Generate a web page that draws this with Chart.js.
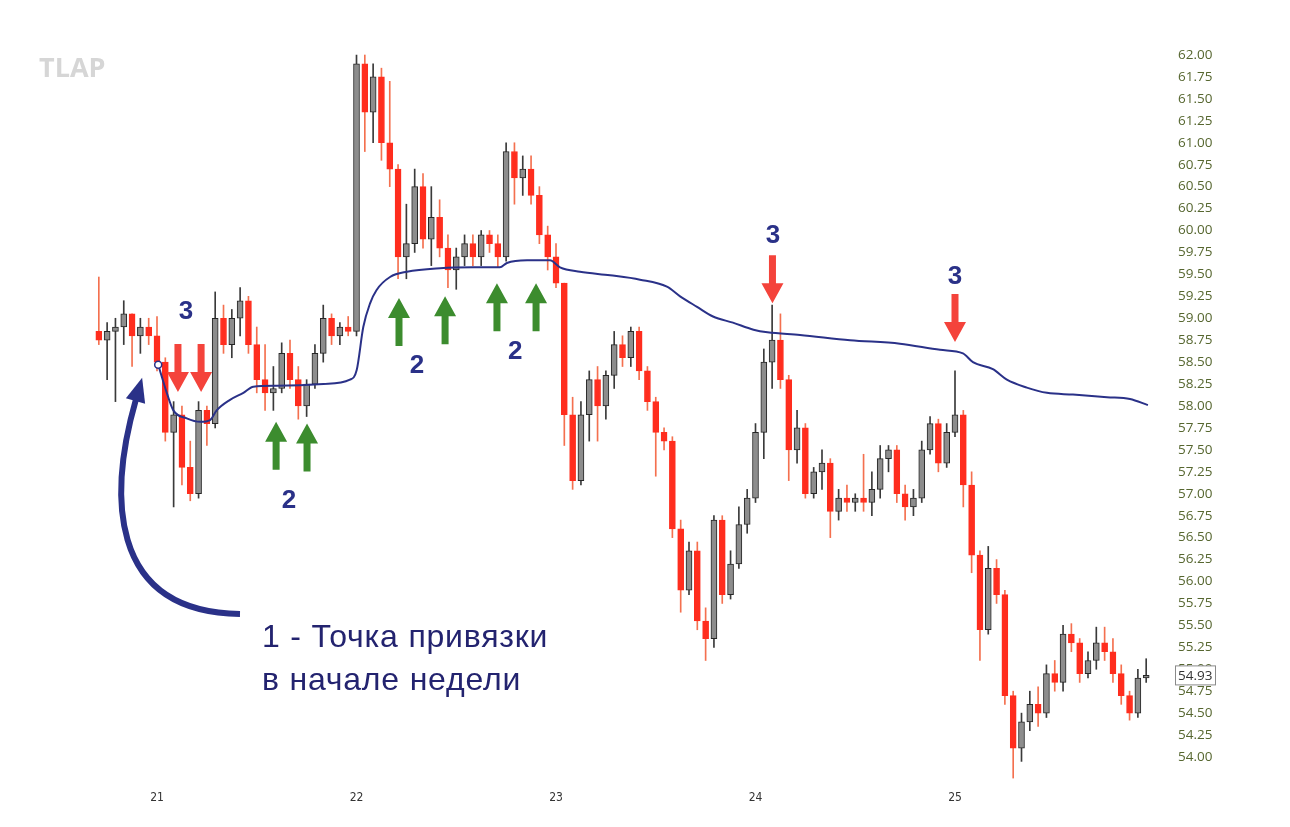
<!DOCTYPE html>
<html lang="ru">
<head>
<meta charset="UTF-8">
<title>Якорный VWAP</title>
<script src="https://cdn.jsdelivr.net/npm/chart.js"></script>
<style>
  html, body { margin: 0; padding: 0; background: #fff; }
  #wrap { width: 1290px; height: 827px; }
</style>
</head>
<body>
<div id="wrap"><canvas id="chart" width="1290" height="827"></canvas></div>
<script>
// hourly candles, first one at 17:00 of day 20
const startDay = 20 + 17 / 24;

const open = [58.85, 58.75, 58.85, 58.90, 59.05, 58.80, 58.90, 58.80, 58.50, 57.70,
  57.90, 57.30, 57.00, 57.95, 57.80, 59.00, 58.70, 59.00, 59.20, 58.70,
  58.30, 58.15, 58.20, 58.60, 58.30, 58.00, 58.25, 58.60, 59.00, 58.80,
  58.90, 58.85, 61.90, 61.35, 61.75, 61.00, 60.70, 59.70, 59.85, 60.50,
  59.90, 60.15, 59.80, 59.55, 59.70, 59.85, 59.70, 59.95, 59.85, 59.70,
  60.90, 60.60, 60.70, 60.40, 59.95, 59.70, 59.40, 57.90, 57.15, 57.90,
  58.30, 58.00, 58.35, 58.70, 58.55, 58.85, 58.40, 58.05, 57.70, 57.60,
  56.60, 55.90, 56.35, 55.55, 55.35, 56.70, 55.85, 56.20, 56.65, 56.95,
  57.70, 58.50, 58.75, 58.30, 57.50, 57.75, 57.00, 57.25, 57.35, 56.80,
  56.95, 56.90, 56.95, 56.90, 57.05, 57.40, 57.50, 57.00, 56.85, 56.95,
  57.50, 57.80, 57.35, 57.70, 57.90, 57.10, 56.30, 55.45, 56.15, 55.85,
  54.70, 54.10, 54.40, 54.60, 54.50, 54.95, 54.85, 55.40, 55.30, 54.95,
  55.10, 55.30, 55.20, 54.95, 54.70, 54.50, 54.90];
const high = [59.47, 58.95, 59.00, 59.20, 59.05, 59.00, 59.00, 59.02, 58.55, 58.05,
  58.00, 57.60, 58.05, 58.00, 59.30, 59.15, 59.10, 59.35, 59.25, 58.90,
  58.70, 58.45, 58.72, 58.75, 58.45, 58.30, 58.70, 59.15, 59.05, 58.95,
  59.02, 62.00, 62.00, 61.90, 61.85, 61.70, 60.75, 60.30, 60.70, 60.65,
  60.50, 60.35, 59.95, 59.80, 59.95, 59.95, 60.00, 60.00, 59.95, 61.00,
  61.00, 60.85, 60.85, 60.50, 60.05, 59.85, 59.40, 58.10, 58.05, 58.40,
  58.45, 58.40, 58.85, 58.80, 58.90, 58.90, 58.45, 58.10, 57.75, 57.65,
  56.70, 56.45, 56.45, 55.70, 56.75, 56.75, 56.35, 56.85, 57.05, 57.80,
  58.65, 59.15, 59.05, 58.35, 57.95, 57.80, 57.30, 57.50, 57.40, 57.05,
  57.10, 57.00, 57.45, 57.25, 57.55, 57.55, 57.55, 57.10, 57.05, 57.60,
  57.88, 57.85, 57.80, 58.40, 57.95, 57.25, 56.35, 56.40, 56.25, 55.90,
  54.75, 54.50, 54.75, 54.80, 55.05, 55.10, 55.50, 55.52, 55.35, 55.20,
  55.48, 55.48, 55.35, 55.05, 54.75, 55.00, 55.12];
const low = [58.70, 58.30, 58.05, 58.70, 58.45, 58.60, 58.70, 58.40, 57.60, 56.85,
  57.10, 56.92, 56.95, 57.55, 57.75, 58.60, 58.55, 58.80, 58.60, 58.15,
  57.95, 57.95, 58.15, 58.20, 57.85, 57.88, 58.20, 58.50, 58.70, 58.70,
  58.80, 58.80, 60.90, 61.00, 60.80, 60.50, 59.45, 59.45, 59.75, 59.80,
  59.60, 59.70, 59.35, 59.33, 59.60, 59.60, 59.60, 59.75, 59.58, 59.65,
  60.30, 60.40, 60.30, 59.85, 59.55, 59.35, 57.55, 57.05, 57.10, 57.60,
  57.60, 57.85, 58.20, 58.45, 58.45, 58.30, 57.95, 57.20, 57.50, 56.50,
  55.65, 55.85, 55.45, 55.10, 55.25, 55.75, 55.80, 56.15, 56.55, 56.90,
  57.40, 58.20, 58.20, 57.15, 57.35, 56.95, 56.95, 57.05, 56.50, 56.70,
  56.80, 56.80, 56.80, 56.75, 56.95, 57.25, 56.90, 56.70, 56.75, 56.90,
  57.45, 57.25, 57.30, 57.65, 56.85, 56.10, 55.10, 55.40, 55.75, 54.60,
  53.76, 53.95, 54.30, 54.35, 54.45, 54.75, 54.75, 55.20, 54.85, 54.90,
  55.00, 55.10, 54.85, 54.60, 54.42, 54.45, 54.85];
const close = [58.75, 58.85, 58.90, 59.05, 58.80, 58.90, 58.80, 58.50, 57.70, 57.90,
  57.30, 57.00, 57.95, 57.80, 59.00, 58.70, 59.00, 59.20, 58.70, 58.30,
  58.15, 58.20, 58.60, 58.30, 58.00, 58.25, 58.60, 59.00, 58.80, 58.90,
  58.85, 61.90, 61.35, 61.75, 61.00, 60.70, 59.70, 59.85, 60.50, 59.90,
  60.15, 59.80, 59.55, 59.70, 59.85, 59.70, 59.95, 59.85, 59.70, 60.90,
  60.60, 60.70, 60.40, 59.95, 59.70, 59.40, 57.90, 57.15, 57.90, 58.30,
  58.00, 58.35, 58.70, 58.55, 58.85, 58.40, 58.05, 57.70, 57.60, 56.60,
  55.90, 56.35, 55.55, 55.35, 56.70, 55.85, 56.20, 56.65, 56.95, 57.70,
  58.50, 58.75, 58.30, 57.50, 57.75, 57.00, 57.25, 57.35, 56.80, 56.95,
  56.90, 56.95, 56.90, 57.05, 57.40, 57.50, 57.00, 56.85, 56.95, 57.50,
  57.80, 57.35, 57.70, 57.90, 57.10, 56.30, 55.45, 56.15, 55.85, 54.70,
  54.10, 54.40, 54.60, 54.50, 54.95, 54.85, 55.40, 55.30, 54.95, 55.10,
  55.30, 55.20, 54.95, 54.70, 54.50, 54.90, 54.93];

// anchored VWAP (day, price)
const vwapDay = [21.006, 21.049, 21.082, 21.149, 21.216, 21.266, 21.299, 21.366, 21.433, 21.483,
  21.600, 21.834, 21.967, 22.001, 22.034, 22.068, 22.100, 22.168, 22.253, 22.419,
  22.584, 22.719, 22.754, 22.855, 22.970, 23.020, 23.120, 23.271, 23.421, 23.556,
  23.622, 23.707, 23.787, 23.887, 23.990, 24.060, 24.223, 24.474, 24.724, 24.925,
  25.040, 25.090, 25.190, 25.260, 25.360, 25.461, 25.591, 25.762, 25.877, 25.967];
const vwapValue = [58.47, 58.15, 57.95, 57.86, 57.82, 57.84, 57.95, 58.07, 58.15, 58.22,
  58.23, 58.25, 58.30, 58.41, 58.90, 59.17, 59.32, 59.47, 59.53, 59.57,
  59.58, 59.58, 59.63, 59.66, 59.66, 59.58, 59.53, 59.49, 59.44, 59.36,
  59.25, 59.13, 59.02, 58.95, 58.87, 58.84, 58.81, 58.75, 58.71, 58.64,
  58.60, 58.50, 58.42, 58.30, 58.21, 58.15, 58.13, 58.10, 58.08, 58.01];

const xTicks = [21, 22, 23, 24, 25];
const yTicks = [54.00, 54.25, 54.50, 54.75, 55.00, 55.25, 55.50, 55.75, 56.00, 56.25,
  56.50, 56.75, 57.00, 57.25, 57.50, 57.75, 58.00, 58.25, 58.50, 58.75,
  59.00, 59.25, 59.50, 59.75, 60.00, 60.25, 60.50, 60.75, 61.00, 61.25,
  61.50, 61.75, 62.00];
const lastPrice = 54.93;

// annotations (day, price)
const redArrows = [[21.105, 58.16], [21.221, 58.16], [24.085, 59.17], [25.000, 58.73]];
const greenArrows = [[21.597, 57.82], [21.752, 57.80], [22.213, 59.23], [22.444, 59.25], [22.704, 59.40], [22.900, 59.40]];
const markLabels = [['3', 21.145, 59.07], ['2', 21.662, 56.92], ['2', 22.303, 58.46], ['2', 22.795, 58.62], ['3', 24.088, 59.94], ['3', 25.000, 59.47]];
const noteLines = [['1 - Точка привязки', 21.526, 55.254], ['в начале недели', 21.526, 54.764]];
const curveArrow = [[21.416, 55.630], [20.739, 55.652], [20.764, 57.043], [20.895, 58.080]];

const times = close.map((c, i) => startDay + i / 24);
const isUp = close.map((c, i) => c >= open[i]);

const NAVY = '#2a3188';

function blockArrow(ctx, x, tipY, dir, color) {
  // dir = 1: points down, dir = -1: points up
  const len = 48, head = 20, hw = 11, sw = 3.5;
  const tailY = tipY - dir * len, neckY = tipY - dir * head;
  ctx.beginPath();
  ctx.moveTo(x - sw, tailY);
  ctx.lineTo(x + sw, tailY);
  ctx.lineTo(x + sw, neckY);
  ctx.lineTo(x + hw, neckY);
  ctx.lineTo(x, tipY);
  ctx.lineTo(x - hw, neckY);
  ctx.lineTo(x - sw, neckY);
  ctx.closePath();
  ctx.fillStyle = color;
  ctx.fill();
}

const overlay = {
  id: 'overlay',
  beforeDraw(chart) {
    const ctx = chart.ctx;
    ctx.save();
    ctx.fillStyle = '#d6d6d6';
    ctx.font = 'bold 27px "Open Sans", Arial, sans-serif';
    ctx.textBaseline = 'middle';
    ctx.fillText('TLAP', 39, 69);
    ctx.restore();
  },
  afterDraw(chart) {
    const ctx = chart.ctx;
    const xs = chart.scales.x, ys = chart.scales.y;
    const px = d => xs.getPixelForValue(d), py = v => ys.getPixelForValue(v);
    ctx.save();

    redArrows.forEach(a => blockArrow(ctx, px(a[0]), py(a[1]), 1, '#f4433b'));
    greenArrows.forEach(a => blockArrow(ctx, px(a[0]), py(a[1]), -1, '#3c8c2e'));

    ctx.fillStyle = NAVY;
    ctx.font = 'bold 26px Arial, "Liberation Sans", sans-serif';
    ctx.textAlign = 'center';
    ctx.textBaseline = 'middle';
    markLabels.forEach(m => ctx.fillText(m[0], px(m[1]), py(m[2])));

    ctx.fillStyle = '#23236f';
    ctx.font = '32px Arial, "Liberation Sans", sans-serif';
    ctx.letterSpacing = '0.8px';
    ctx.textAlign = 'left';
    ctx.textBaseline = 'alphabetic';
    noteLines.forEach(n => ctx.fillText(n[0], px(n[1]), py(n[2])));
    ctx.letterSpacing = '0px';

    // curved arrow to the anchor point
    const p = curveArrow.map(c => [px(c[0]), py(c[1])]);
    ctx.strokeStyle = NAVY;
    ctx.lineWidth = 6;
    ctx.lineCap = 'butt';
    ctx.beginPath();
    ctx.moveTo(p[0][0], p[0][1]);
    ctx.bezierCurveTo(p[1][0], p[1][1], p[2][0], p[2][1], p[3][0], p[3][1]);
    ctx.stroke();
    let dx = p[3][0] - p[2][0], dy = p[3][1] - p[2][1];
    const dl = Math.hypot(dx, dy); dx /= dl; dy /= dl;
    const tip = [p[3][0] + dx * 22, p[3][1] + dy * 22];
    const back = [p[3][0] - dx * 2, p[3][1] - dy * 2];
    ctx.beginPath();
    ctx.moveTo(tip[0], tip[1]);
    ctx.lineTo(back[0] - dy * 10, back[1] + dx * 10);
    ctx.lineTo(back[0] + dy * 10, back[1] - dx * 10);
    ctx.closePath();
    ctx.fillStyle = NAVY;
    ctx.fill();

    // anchor marker
    ctx.beginPath();
    ctx.arc(px(vwapDay[0]), py(vwapValue[0]), 3.5, 0, Math.PI * 2);
    ctx.fillStyle = '#fff';
    ctx.fill();
    ctx.lineWidth = 1.5;
    ctx.strokeStyle = NAVY;
    ctx.stroke();

    // last price box
    const by = py(lastPrice), bx = chart.chartArea.right + 5;
    ctx.fillStyle = '#fff';
    ctx.fillRect(bx, by - 9.5, 40, 19);
    ctx.strokeStyle = '#8a8a8a';
    ctx.lineWidth = 1;
    ctx.strokeRect(bx + 0.5, by - 9.5, 40, 19);
    ctx.fillStyle = '#333';
    ctx.font = '13.5px "Open Sans", sans-serif';
    ctx.textAlign = 'left';
    ctx.textBaseline = 'middle';
    ctx.fillText(lastPrice.toFixed(2), bx + 3, by + 0.5);
    ctx.restore();
  }
};

new Chart(document.getElementById('chart'), {
  type: 'bar',
  data: {
    datasets: [
      {
        type: 'line',
        label: 'VWAP',
        data: vwapDay.map((d, i) => ({ x: d, y: vwapValue[i] })),
        borderColor: NAVY,
        borderWidth: 2,
        pointRadius: 0,
        cubicInterpolationMode: 'monotone',
        order: 0
      },
      {
        label: 'body',
        data: times.map((t, i) => ({ x: t, y: [Math.min(open[i], close[i]), Math.max(open[i], close[i])] })),
        backgroundColor: isUp.map(u => u ? '#8d8d8d' : '#ff2d1e'),
        borderColor: isUp.map(u => u ? '#262626' : '#ff2d1e'),
        borderWidth: 1,
        borderSkipped: false,
        barThickness: 6,
        minBarLength: 2,
        grouped: false,
        order: 1
      },
      {
        label: 'wick',
        data: times.map((t, i) => ({ x: t, y: [low[i], high[i]] })),
        backgroundColor: isUp.map(u => u ? '#3a3a3a' : '#f4704f'),
        barThickness: 1,
        grouped: false,
        order: 2
      }
    ]
  },
  options: {
    responsive: false,
    animation: false,
    layout: { padding: { top: 20, left: 0, right: 0, bottom: 0 } },
    plugins: { legend: { display: false }, tooltip: { enabled: false } },
    scales: {
      x: {
        type: 'linear',
        min: 20.213,
        max: 26.0777,
        offset: false,
        grid: { display: false, drawTicks: false },
        border: { display: false },
        ticks: {
          color: '#333',
          font: { family: '"Liberation Sans Narrow", "DejaVu Sans Condensed", sans-serif', size: 12 },
          padding: 6,
          maxRotation: 0,
          autoSkip: false,
          callback: v => String(v)
        },
        afterBuildTicks: s => { s.ticks = xTicks.map(v => ({ value: v })); },
        afterFit: s => { s.height = 42; }
      },
      y: {
        type: 'linear',
        position: 'right',
        min: 53.681,
        max: 62.399,
        grid: { display: false, drawTicks: false },
        border: { display: false },
        ticks: {
          color: '#56662f',
          font: { family: '"Open Sans", sans-serif', size: 13.5 },
          padding: 8,
          autoSkip: false,
          callback: v => v.toFixed(2)
        },
        afterBuildTicks: s => { s.ticks = yTicks.map(v => ({ value: v })); },
        afterFit: s => { s.width = 120; }
      }
    }
  },
  plugins: [overlay]
});
</script>
</body>
</html>
